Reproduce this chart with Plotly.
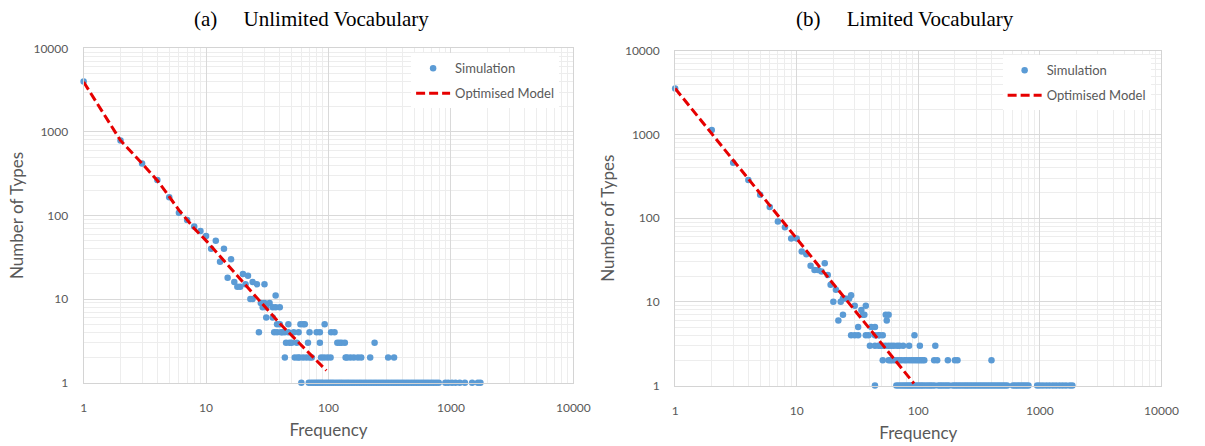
import plotly.graph_objects as go

# ---- (a) Unlimited vocabulary: frequency spectrum of the simulation ----
A_FREQ = [
    1, 2, 3, 4, 5, 6, 7, 8, 9, 10,
    11, 12, 13, 14, 15, 16, 17, 18, 19, 20,
    21, 22, 23, 24, 24, 26, 27, 28, 29, 30,
    30, 31, 31, 33, 35, 35, 37, 37, 40,
    38, 40, 47, 59, 62, 64, 93,
    36, 38, 41, 42, 44, 47, 52, 57, 70, 80, 85, 105, 112,
    45, 48, 50, 55, 68, 85, 118, 123, 128, 136, 238,
    44, 53, 56, 58, 62, 66, 70, 73, 87, 92, 98, 104, 138, 142, 151, 161, 174, 185, 219, 307, 343,
    60, 69, 72, 75, 78, 81, 84, 87, 90, 94, 98, 102, 106, 110, 115, 120, 125, 130, 136, 142,
    148, 155, 162, 170, 178, 186, 195, 204, 214, 224, 235, 246, 258, 270, 283, 297, 311, 326, 342, 358,
    375, 393, 412, 432, 453, 475, 498, 522, 547, 573, 600, 628, 658, 690, 723, 758, 795,
    900, 950, 1020, 1090, 1180, 1300, 1490, 1660, 1740,
]
A_TYPES = [
    4000, 790, 420, 265, 165, 108, 88, 74, 65, 57,
    40, 50, 28, 40, 18, 30, 16, 14, 14, 20,
    15, 19, 10, 10, 16, 15, 4, 9, 8, 15,
    9, 8, 6, 9, 8, 6, 11, 8, 8,
    5, 5, 5, 5, 5, 5, 5,
    4, 4, 4, 4, 4, 4, 4, 4, 4, 4, 4, 4, 4,
    3, 3, 3, 3, 3, 3, 3, 3, 3, 3, 3,
    2, 2, 2, 2, 2, 2, 2, 2, 2, 2, 2, 2, 2, 2, 2, 2, 2, 2, 2, 2, 2,
    1, 1, 1, 1, 1, 1, 1, 1, 1, 1, 1, 1, 1, 1, 1, 1, 1, 1, 1, 1,
    1, 1, 1, 1, 1, 1, 1, 1, 1, 1, 1, 1, 1, 1, 1, 1, 1, 1, 1, 1,
    1, 1, 1, 1, 1, 1, 1, 1, 1, 1, 1, 1, 1, 1, 1, 1, 1,
    1, 1, 1, 1, 1, 1, 1, 1, 1,
]
# optimised model curve (steeper at the head, flattening towards the tail)
A_MODEL_FREQ = [1, 2, 3, 4, 5, 6, 8, 10, 20, 40, 96]
A_MODEL_TYPES = [3950, 790, 420, 262, 168, 116, 70, 50, 16, 5.1, 1.4]

# ---- (b) Limited vocabulary ----
B_FREQ = [
    1, 2, 3, 4, 5, 6, 7, 8, 9, 10,
    11, 12, 13, 14, 15, 16, 17, 18, 19, 20,
    21, 22, 23, 24, 24, 25, 27, 28, 30, 34,
    35, 36, 37,
    32, 41, 44,
    54, 57, 55,
    28, 30, 32, 37, 39, 44, 47, 48, 51, 93,
    40, 44, 47, 49, 51, 54, 57, 60, 63, 67, 70, 75, 84, 103, 138,
    51, 57, 59, 61, 64, 67, 70, 73, 77, 80, 84, 88, 92, 96, 100, 104, 108, 112, 135, 143,
    175, 200, 210, 400,
    44, 66, 69, 72, 75, 78, 81, 84, 87, 90, 94, 98, 102, 106, 110, 115, 120, 125, 130, 136,
    146, 152, 158, 165, 172, 179, 192, 200, 208, 217, 226, 236, 246, 256, 267, 278, 290, 302, 315, 328,
    342, 356, 371, 387, 403, 420, 438, 456, 475, 495, 516, 538,
    600, 625, 652, 680, 710, 740, 772, 805,
    950, 1000, 1060, 1130, 1200, 1280, 1360, 1450, 1540, 1640, 1760, 1850,
]
B_TYPES = [
    3550, 1130, 460, 285, 190, 136, 91, 78, 57, 57,
    40, 37, 27, 24, 24, 23, 29, 21, 16, 10,
    14, 6, 10, 7, 11, 11, 11, 12, 9, 8,
    7, 7, 9,
    5, 5, 5,
    7, 7, 6,
    4, 4, 4, 4, 4, 4, 4, 4, 4, 4,
    3, 3, 3, 3, 3, 3, 3, 3, 3, 3, 3, 3, 3, 3, 3,
    2, 2, 2, 2, 2, 2, 2, 2, 2, 2, 2, 2, 2, 2, 2, 2, 2, 2, 2, 2,
    2, 2, 2, 2,
    1, 1, 1, 1, 1, 1, 1, 1, 1, 1, 1, 1, 1, 1, 1, 1, 1, 1, 1, 1,
    1, 1, 1, 1, 1, 1, 1, 1, 1, 1, 1, 1, 1, 1, 1, 1, 1, 1, 1, 1,
    1, 1, 1, 1, 1, 1, 1, 1, 1, 1, 1, 1,
    1, 1, 1, 1, 1, 1, 1, 1,
    1, 1, 1, 1, 1, 1, 1, 1, 1, 1, 1, 1,
]
B_MODEL_FREQ = [1, 8.75, 92]
B_MODEL_TYPES = [3550, 71.6, 1.06]

TICK_VALUES = [1, 10, 100, 1000, 10000]
TICK_LABELS = ["1", "10", "100", "1000", "10000"]

W, H = 1205, 446
BLUE = "#5b9bd5"
RED = "#e60000"
GREY_TEXT = "#595959"
SANS = "Lato, 'Open Sans', sans-serif"
SERIF = "'Liberation Serif', 'Times New Roman', serif"

fig = go.Figure()


def add_panel(freq, types, mfreq, mtypes, xa, ya, legend):
    fig.add_trace(go.Scatter(
        x=freq, y=types, mode="markers", name="Simulation",
        marker=dict(color=BLUE, size=6.5, line=dict(width=0)),
        xaxis=xa, yaxis=ya, legend=legend, legendgroup=legend + "sim",
        cliponaxis=False,
    ))
    fig.add_trace(go.Scatter(
        x=mfreq, y=mtypes, mode="lines", name="Optimised Model",
        line=dict(color=RED, width=3, dash="9px,4px"),
        xaxis=xa, yaxis=ya, legend=legend, legendgroup=legend + "model",
        cliponaxis=False,
    ))


add_panel(A_FREQ, A_TYPES, A_MODEL_FREQ, A_MODEL_TYPES, "x", "y", "legend")
add_panel(B_FREQ, B_TYPES, B_MODEL_FREQ, B_MODEL_TYPES, "x2", "y2", "legend2")


def log_axis(domain, title, anchor, is_x):
    return dict(
        type="log", range=[0, 4], domain=domain, anchor=anchor,
        tickmode="array", tickvals=TICK_VALUES, ticktext=TICK_LABELS,
        ticks="", tickfont=dict(family=SANS, size=12, color=GREY_TEXT),
        showgrid=True, gridcolor="#d9d9d9", gridwidth=1,
        minor=dict(dtick="D1", showgrid=True, gridcolor="#ededed", gridwidth=1, ticks=""),
        showline=True, linecolor="#d4d4d4", linewidth=1, mirror=True,
        zeroline=False,
        title=dict(text=title, font=dict(family=SANS, size=17, color=GREY_TEXT),
                   standoff=10 if is_x else 5),
        ticklabelstandoff=14 if is_x else 12,
    )


def legend_box(left_px, top_px):
    return dict(
        x=left_px / W, y=1 - top_px / H, xanchor="left", yanchor="top",
        bgcolor="white", borderwidth=0, tracegroupgap=5, itemwidth=34,
        font=dict(family=SANS, size=13, color=GREY_TEXT),
    )


fig.update_layout(
    width=W, height=H,
    margin=dict(l=0, r=0, t=0, b=0),
    paper_bgcolor="white", plot_bgcolor="white",
    xaxis=log_axis([82 / W, 580 / W], "Frequency", "y", True),
    yaxis=log_axis([1 - 387.7 / H, 1 - 41.7 / H], "Number of Types", "x", False),
    xaxis2=log_axis([683.5 / W, 1178 / W], "Frequency", "y2", True),
    yaxis2=log_axis([1 - 390.7 / H, 1 - 44.3 / H], "Number of Types", "x2", False),
    legend=legend_box(415, 47),
    legend2=legend_box(1016.5, 49),
    showlegend=True,
    annotations=[
        dict(text="(a)\u00a0\u00a0\u00a0\u00a0\u00a0Unlimited Vocabulary", x=314 / W, y=1 + 3 / H,
             xref="paper", yref="paper", xanchor="center", yanchor="top", showarrow=False,
             font=dict(family=SERIF, size=21, color="black")),
        dict(text="(b)\u00a0\u00a0\u00a0\u00a0\u00a0Limited Vocabulary", x=917 / W, y=1 + 3 / H,
             xref="paper", yref="paper", xanchor="center", yanchor="top", showarrow=False,
             font=dict(family=SERIF, size=21, color="black")),
    ],
)

fig.write_html("out.html")
